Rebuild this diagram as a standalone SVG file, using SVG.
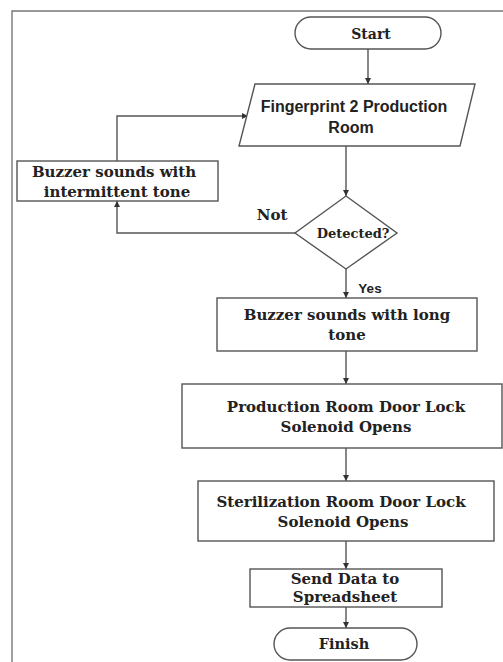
<svg xmlns="http://www.w3.org/2000/svg" width="503" height="662" viewBox="0 0 503 662">
<style>
.shape{fill:#fff;stroke:#555;stroke-width:1.4}
.ln{fill:none;stroke:#555;stroke-width:1.4}
.t{font-family:"DejaVu Serif","Liberation Serif",serif;font-weight:bold;font-size:15px;fill:#222;text-anchor:middle}
.s{font-family:"Liberation Sans",Arial,sans-serif;font-weight:bold;font-size:16px;fill:#222;text-anchor:middle}
</style>
<defs>
<marker id="ah" viewBox="0 0 10 10" refX="10" refY="5" markerWidth="6" markerHeight="6" orient="auto" markerUnits="userSpaceOnUse">
<path d="M0,0 L10,5 L0,10 Z" fill="#333"/>
</marker>
</defs>
<rect width="503" height="662" fill="#fff"/>
<path d="M12,662 V11 H503" fill="none" stroke="#777" stroke-width="1.4"/>
<g id="connectors">
<path class="ln" d="M368,49 V84" marker-end="url(#ah)"/>
<path class="ln" d="M346,146 V196" marker-end="url(#ah)"/>
<path class="ln" d="M295,233 H117 V201" marker-end="url(#ah)"/>
<path class="ln" d="M117,161 V116 H248" marker-end="url(#ah)"/>
<path class="ln" d="M346,269 V298" marker-end="url(#ah)"/>
<path class="ln" d="M346,351 V384" marker-end="url(#ah)"/>
<path class="ln" d="M346,448 V481" marker-end="url(#ah)"/>
<path class="ln" d="M346,541 V569" marker-end="url(#ah)"/>
<path class="ln" d="M346,607 V628" marker-end="url(#ah)"/>
<text class="t" x="272" y="220" font-size="15">Not</text>
<text class="s" x="370" y="293" style="font-size:13.5px">Yes</text>
</g>
<g id="start">
<rect class="shape" x="295" y="17" width="146" height="32" rx="16"/>
<text class="t" x="371" y="39" style="font-size:14px">Start</text>
</g>
<g id="fingerprint">
<polygon class="shape" points="255,84 475,84 460,146 239,146"/>
<text class="s" x="354" y="112">Fingerprint 2 Production</text>
<text class="s" x="351" y="133">Room</text>
</g>
<g id="intermittent">
<rect class="shape" x="17" y="161" width="201" height="40"/>
<text class="t" x="114" y="177">Buzzer sounds with</text>
<text class="t" x="117" y="197">intermittent tone</text>
</g>
<g id="detected">
<polygon class="shape" points="346,196 397,233 346,269 295,233"/>
<text class="t" x="353" y="238" style="font-size:13px">Detected?</text>
</g>
<g id="longtone">
<rect class="shape" x="217" y="298" width="260" height="53"/>
<text class="t" x="347" y="320">Buzzer sounds with long</text>
<text class="t" x="347" y="340">tone</text>
</g>
<g id="production">
<rect class="shape" x="182" y="384" width="320" height="64"/>
<text class="t" x="346" y="412">Production Room Door Lock</text>
<text class="t" x="346" y="432">Solenoid Opens</text>
</g>
<g id="sterilization">
<rect class="shape" x="198" y="481" width="296" height="60"/>
<text class="t" x="341" y="507">Sterilization Room Door Lock</text>
<text class="t" x="343" y="527">Solenoid Opens</text>
</g>
<g id="senddata">
<rect class="shape" x="250" y="569" width="192" height="38"/>
<text class="t" x="345" y="584">Send Data to</text>
<text class="t" x="345" y="602">Spreadsheet</text>
</g>
<g id="finish">
<rect class="shape" x="274" y="628" width="143" height="32" rx="16"/>
<text class="t" x="344" y="649" style="font-size:14.5px">Finish</text>
</g>
</svg>
